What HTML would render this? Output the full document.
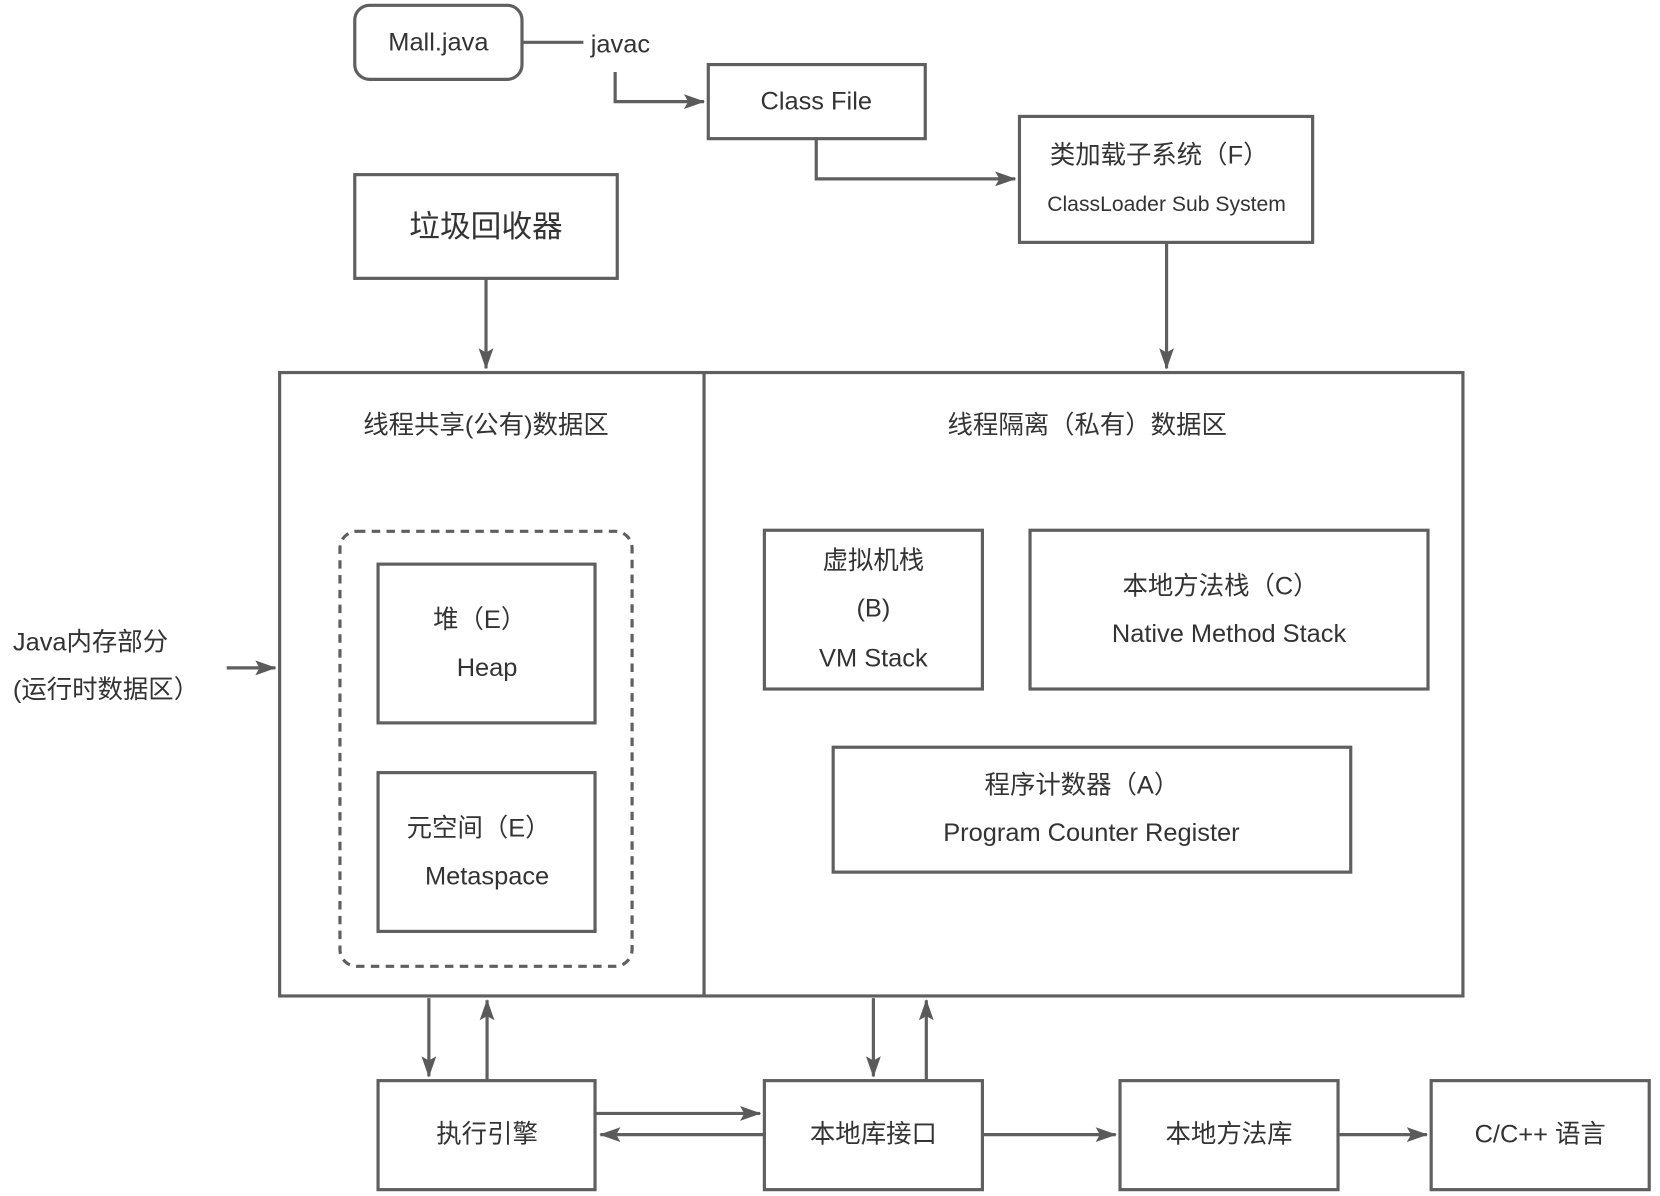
<!DOCTYPE html>
<html><head><meta charset="utf-8"><style>
html,body{margin:0;padding:0;background:#fff;}
svg{display:block;}
text{font-family:"Liberation Sans","Noto Sans CJK SC",sans-serif;fill:#333;text-anchor:middle;dominant-baseline:central;}
</style></head><body>
<svg width="1660" height="1196" viewBox="0 0 1568 1130" xmlns="http://www.w3.org/2000/svg">
<defs><marker id="a" markerWidth="10" markerHeight="10" refX="9" refY="5" orient="auto" markerUnits="userSpaceOnUse"><path d="M0,0 L10,5 L0,10 Z" fill="#5a5a5a"/></marker>
<marker id="b" markerWidth="20" markerHeight="14" refX="19" refY="7" orient="auto" markerUnits="userSpaceOnUse"><path d="M0,0 L20,7 L0,14 L4,7 Z" fill="#5a5a5a"/></marker></defs>
<g fill="none" stroke="#5f5f5f" stroke-width="3">
<rect x="335" y="5" width="158" height="70" rx="14"/>
<path d="M493 40 H551"/>
<path d="M581 68 V96 H665" marker-end="url(#b)"/>
<rect x="669" y="61" width="205" height="70"/>
<path d="M771 131 V169 H959" marker-end="url(#b)"/>
<rect x="963" y="110" width="277" height="119"/>
<path d="M1102 229 V348" marker-end="url(#b)"/>
<rect x="335" y="165" width="248" height="98"/>
<path d="M459 263 V348" marker-end="url(#b)"/>
<rect x="264" y="352" width="1118" height="589"/>
<path d="M665 352 V941"/>
<rect x="321" y="502" width="276" height="411" rx="16" stroke-dasharray="8,6"/>
<rect x="357" y="533" width="205" height="150"/>
<rect x="357" y="730" width="205" height="150"/>
<rect x="722" y="501" width="206" height="150"/>
<rect x="973" y="501" width="376" height="150"/>
<rect x="787" y="706" width="489" height="118"/>
<path d="M214 631 H260" marker-end="url(#b)"/>
<rect x="357" y="1021" width="205" height="103"/>
<rect x="722" y="1021" width="206" height="103"/>
<rect x="1058" y="1021" width="206" height="103"/>
<rect x="1352" y="1021" width="206" height="103"/>
<path d="M405 943 V1017" marker-end="url(#b)"/>
<path d="M460 1020 V945" marker-end="url(#b)"/>
<path d="M825 943 V1017" marker-end="url(#b)"/>
<path d="M875 1020 V945" marker-end="url(#b)"/>
<path d="M563 1052 H718" marker-end="url(#b)"/>
<path d="M721 1072 H567" marker-end="url(#b)"/>
<path d="M929 1072 H1054" marker-end="url(#b)"/>
<path d="M1265 1072 H1348" marker-end="url(#b)"/>
</g>
<g font-size="24">
<text x="414" y="40">Mall.java</text>
<text x="586" y="42">javac</text>
<text x="771" y="96">Class File</text>
<text x="1095" y="147">类加载子系统（F）</text>
<text x="1102" y="193" font-size="20">ClassLoader Sub System</text>
<text x="459" y="214" font-size="29">垃圾回收器</text>
<text x="459" y="402">线程共享(公有)数据区</text>
<text x="1027" y="402">线程隔离（私有）数据区</text>
<text x="453" y="586">堆（E）</text>
<text x="460" y="631">Heap</text>
<text x="452" y="783">元空间（E）</text>
<text x="460" y="828">Metaspace</text>
<text x="825" y="530">虚拟机栈</text>
<text x="825" y="575">(B)</text>
<text x="825" y="622">VM Stack</text>
<text x="1153" y="554">本地方法栈（C）</text>
<text x="1161" y="599">Native Method Stack</text>
<text x="1022" y="742">程序计数器（A）</text>
<text x="1031" y="787">Program Counter Register</text>
<text x="12" y="607" style="text-anchor:start">Java内存部分</text>
<text x="12" y="652" style="text-anchor:start">(运行时数据区）</text>
<text x="460" y="1072">执行引擎</text>
<text x="825" y="1072">本地库接口</text>
<text x="1161" y="1072">本地方法库</text>
<text x="1455" y="1072">C/C++ 语言</text>
</g>
</svg>
</body></html>
